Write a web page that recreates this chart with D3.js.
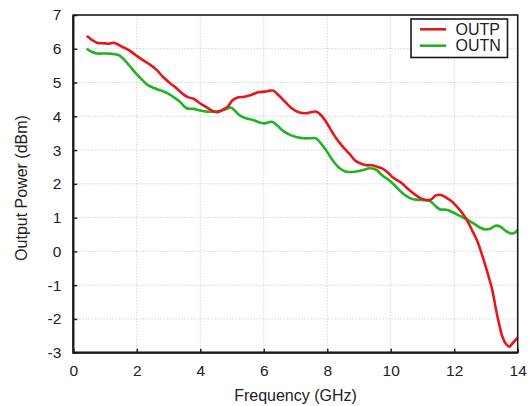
<!DOCTYPE html>
<html><head><meta charset="utf-8">
<script src="https://cdn.jsdelivr.net/npm/d3@7"></script>
<style>body{margin:0;background:#fff}svg{display:block}text{font-family:"Liberation Sans",Arial,sans-serif;fill:#222}</style>
</head><body>
<svg id="c" width="532" height="406"></svg>
<script>
const xTicks = [0,2,4,6,8,10,12,14];
const yTicks = [-3,-2,-1,0,1,2,3,4,5,6,7];
const seriesNames = ["OUTP","OUTN"];
const seriesColors = ["#e8161c","#20b422"];
const outpFreq = [0.45,0.56,0.74,1.0,1.11,1.27,1.38,1.54,1.75,1.97,2.18,2.40,2.61,2.82,3.04,3.25,3.47,3.63,3.79,4.0,4.21,4.43,4.53,4.7,4.86,5.02,5.18,5.39,5.6,5.82,6.03,6.19,6.3,6.46,6.67,6.89,7.1,7.32,7.48,7.64,7.8,7.96,8.12,8.28,8.49,8.71,8.87,9.03,9.24,9.4,9.56,9.72,9.88,10.04,10.2,10.36,10.52,10.74,10.95,11.11,11.27,11.43,11.59,11.75,11.91,12.07,12.24,12.4,12.56,12.72,12.88,13.04,13.2,13.3,13.41,13.52,13.63,13.73,13.84,14.0];
const outpPow = [6.36,6.28,6.18,6.16,6.15,6.18,6.14,6.06,5.96,5.81,5.67,5.54,5.39,5.17,4.99,4.83,4.65,4.56,4.52,4.38,4.26,4.14,4.12,4.19,4.28,4.48,4.56,4.58,4.63,4.71,4.73,4.76,4.76,4.63,4.43,4.23,4.12,4.09,4.12,4.14,4.04,3.84,3.59,3.35,3.10,2.88,2.70,2.61,2.55,2.55,2.51,2.46,2.36,2.21,2.11,2.01,1.87,1.70,1.57,1.52,1.54,1.66,1.67,1.59,1.49,1.34,1.15,0.93,0.63,0.32,-0.11,-0.60,-1.15,-1.64,-2.13,-2.53,-2.74,-2.82,-2.72,-2.55];
const outnFreq = [0.45,0.58,0.74,1.0,1.22,1.43,1.59,1.75,1.97,2.18,2.34,2.56,2.77,2.98,3.14,3.36,3.57,3.79,4.0,4.21,4.43,4.64,4.8,4.96,5.07,5.23,5.44,5.66,5.87,6.03,6.25,6.41,6.62,6.83,7.05,7.26,7.48,7.64,7.8,7.96,8.17,8.39,8.6,8.87,9.13,9.35,9.56,9.72,9.94,10.1,10.26,10.47,10.68,10.95,11.22,11.38,11.54,11.75,11.97,12.18,12.4,12.61,12.82,12.98,13.14,13.3,13.46,13.63,13.79,13.9,14.0];
const outnPow = [5.98,5.91,5.86,5.86,5.85,5.81,5.69,5.52,5.27,5.07,4.93,4.83,4.76,4.68,4.58,4.43,4.24,4.22,4.17,4.14,4.14,4.16,4.21,4.26,4.19,4.04,3.94,3.89,3.82,3.79,3.84,3.74,3.56,3.45,3.38,3.35,3.35,3.35,3.20,3.00,2.70,2.46,2.36,2.36,2.41,2.46,2.41,2.26,2.11,1.98,1.82,1.65,1.55,1.52,1.50,1.37,1.25,1.23,1.15,1.05,0.95,0.83,0.70,0.65,0.67,0.76,0.73,0.60,0.53,0.55,0.63];

const svg = d3.select("#c");
const L=73.3, R=517.7, T=15, B=352.7;
const x = d3.scaleLinear().domain([0,14]).range([L,R]);
const y = d3.scaleLinear().domain([-3,7]).range([B,T]);

// grid
const g = svg.append("g");
g.selectAll("line.gx").data(xTicks.slice(1,-1)).enter().append("line")
 .attr("x1",d=>x(d)).attr("x2",d=>x(d)).attr("y1",T).attr("y2",B)
 .attr("stroke","#d4d4d4").attr("stroke-width",1).attr("stroke-dasharray","1.5,1.5");
g.selectAll("line.gy").data(yTicks.slice(1,-1)).enter().append("line")
 .attr("y1",d=>y(d)).attr("y2",d=>y(d)).attr("x1",L).attr("x2",R)
 .attr("stroke","#d4d4d4").attr("stroke-width",1).attr("stroke-dasharray","1.5,1.5");

// axes
const fmt = d => String(d);
const xAxis = d3.axisBottom(x).tickValues(xTicks).tickFormat(fmt).tickSizeInner(-4).tickSizeOuter(0).tickPadding(10);
const yAxis = d3.axisLeft(y).tickValues(yTicks).tickFormat(fmt).tickSizeInner(-4).tickSizeOuter(0).tickPadding(10);
const gx = svg.append("g").attr("transform",`translate(0,${B})`).call(xAxis);
const gy = svg.append("g").attr("transform",`translate(${L},0)`).call(yAxis);
[gx,gy].forEach(a=>{
  a.select(".domain").remove();
  a.selectAll(".tick line").attr("stroke","#222").attr("stroke-width",1.5);
  a.selectAll(".tick text").attr("font-size",15.5).attr("fill","#222").attr("font-family","Liberation Sans, Arial, sans-serif");
});
gx.selectAll(".tick text").attr("dy","0.71em").attr("y",12);
gy.selectAll(".tick text").attr("x",-12);

// series
const line = d3.line().x(d=>x(d[0])).y(d=>y(d[1])).curve(d3.curveCatmullRom.alpha(0.5));
const data = [d3.zip(outpFreq,outpPow), d3.zip(outnFreq,outnPow)];
svg.append("defs").append("clipPath").attr("id","cp").append("rect").attr("x",L).attr("y",T).attr("width",R-L).attr("height",B-T);
[1,0].forEach(i=>{
  svg.append("path").attr("clip-path","url(#cp)").attr("d",line(data[i])).attr("fill","none")
   .attr("stroke",seriesColors[i]).attr("stroke-width",2.6).attr("stroke-linejoin","round").attr("stroke-linecap","round");
});

// frame
svg.append("rect").attr("x",L).attr("y",T).attr("width",R-L).attr("height",B-T)
 .attr("fill","none").attr("stroke","#1a1a1a").attr("stroke-width",1.6);
svg.append("path").attr("d",`M${L},${T}V${B}H${R}`).attr("fill","none").attr("stroke","#1a1a1a").attr("stroke-width",2.2);

// legend
const lg = svg.append("g");
lg.append("rect").attr("x",411).attr("y",19).attr("width",96.5).attr("height",38.5)
 .attr("fill","#fff").attr("stroke","#1a1a1a").attr("stroke-width",1.6);
seriesNames.forEach((n,i)=>{
  const yy = 29.3 + i*16.4;
  lg.append("line").attr("x1",420).attr("x2",446).attr("y1",yy).attr("y2",yy)
   .attr("stroke",seriesColors[i]).attr("stroke-width",2.6);
  lg.append("text").attr("x",455.5).attr("y",yy).attr("dy","0.36em").attr("font-size",16).text(n);
});

// titles
svg.append("text").attr("x",(L+R)/2).attr("y",401).attr("text-anchor","middle").attr("font-size",16).text("Frequency (GHz)");
svg.append("text").attr("transform","translate(27,188) rotate(-90)").attr("text-anchor","middle").attr("font-size",16).text("Output Power (dBm)");
</script>
</body></html>
